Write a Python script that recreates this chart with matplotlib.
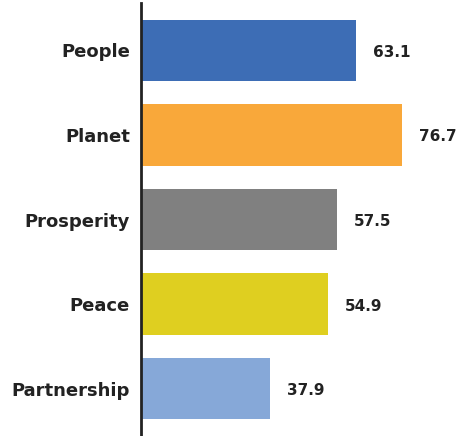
import matplotlib
matplotlib.use("Agg")
import matplotlib.pyplot as plt

categories = ["People", "Planet", "Prosperity", "Peace", "Partnership"]
values = [63.1, 76.7, 57.5, 54.9, 37.9]
colors = ["#3d6db5", "#f9a83a", "#808080", "#dfcf20", "#86a8d8"]

W, H = 457, 436
fig = plt.figure(figsize=(W / 100, H / 100), dpi=100)
ax = fig.add_axes([141 / W, 0 / H, (W - 141) / W, 433 / H])

ypos = list(range(len(categories)))
ax.barh(ypos, values, height=0.726, color=colors, zorder=2)
ax.set_xlim(0, (W - 141) / 3.407)
ax.set_ylim(4.56, -0.56)

for y, v in zip(ypos, values):
    ax.annotate(f"{v:.1f}", xy=(v, y), xytext=(17, -2), textcoords="offset pixels",
                ha="left", va="center", fontsize=11, fontweight="bold", color="#222222")

ax.set_yticks(ypos)
ax.set_yticklabels(categories, fontsize=13, fontweight="bold", color="#222222")
ax.tick_params(axis="y", length=0, pad=8)
ax.set_xticks([])
for s in ["top", "right", "bottom"]:
    ax.spines[s].set_visible(False)
ax.spines["left"].set_linewidth(2)
ax.spines["left"].set_color("#222222")
ax.spines["left"].set_zorder(3)

fig.savefig("out.png", dpi=100)
